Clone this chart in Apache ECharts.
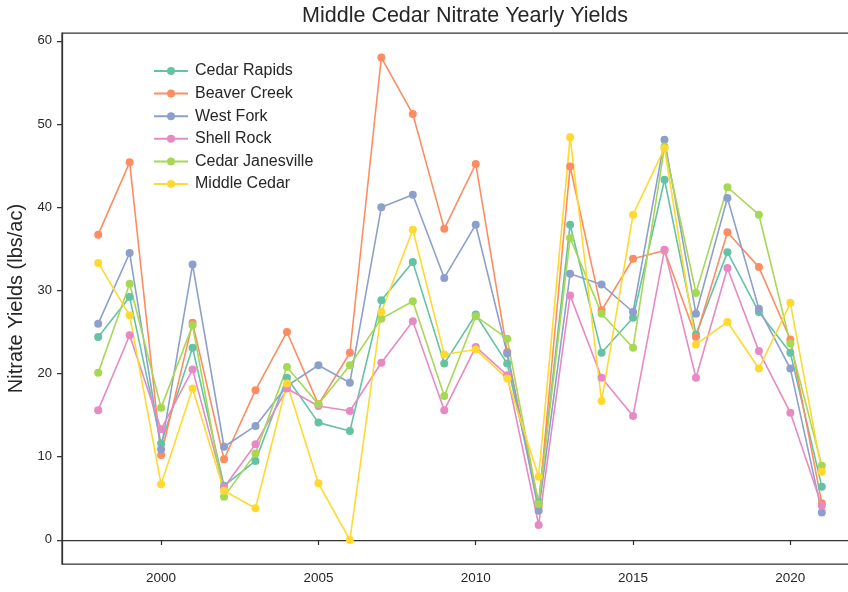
<!DOCTYPE html>
<html>
<head>
<meta charset="utf-8">
<script src="https://cdn.jsdelivr.net/npm/echarts@6/dist/echarts.min.js"></script>
<style>
  html, body { margin: 0; padding: 0; background: #fff; }
  #chart { width: 848px; height: 592px; }
</style>
</head>
<body>
<div id="chart"></div>
<script>
// Yearly nitrate yields (lbs/ac) for the Middle Cedar watershed and its sub-basins
const years = [1998, 1999, 2000, 2001, 2002, 2003, 2004, 2005, 2006, 2007, 2008, 2009,
               2010, 2011, 2012, 2013, 2014, 2015, 2016, 2017, 2018, 2019, 2020, 2021];

const cedarRapids     = [24.4, 29.2, 11.6, 23.1, 6.5, 9.5, 19.5, 14.1, 13.1, 28.8, 33.4, 21.2, 27.1, 21.2, 4.5, 37.9, 22.5, 26.7, 43.3, 24.7, 34.6, 27.4, 22.5, 6.4];
const beaverCreek     = [36.7, 45.4, 10.2, 26.1, 9.7, 18.0, 25.0, 16.3, 22.5, 58.0, 51.2, 37.4, 45.2, 22.6, 4.0, 44.9, 27.6, 33.8, 34.8, 24.4, 37.0, 32.8, 24.1, 4.4];
const westFork        = [26.0, 34.5, 10.9, 33.1, 11.2, 13.7, 18.5, 21.0, 18.9, 40.0, 41.5, 31.5, 37.9, 22.4, 3.5, 32.0, 30.7, 27.4, 48.1, 27.2, 41.1, 27.8, 20.6, 3.3];
const shellRock       = [15.6, 24.6, 13.3, 20.5, 6.3, 11.5, 18.2, 16.1, 15.5, 21.3, 26.3, 15.6, 23.2, 19.8, 1.8, 29.4, 19.5, 14.9, 34.9, 19.5, 32.7, 22.7, 15.3, 4.1];
const cedarJanesville = [20.1, 30.8, 15.9, 25.8, 5.2, 10.4, 20.8, 16.3, 21.0, 26.6, 28.7, 17.3, 26.9, 24.2, 4.3, 36.3, 27.2, 23.1, 47.3, 29.7, 42.4, 39.1, 23.6, 8.9];
const middleCedar     = [33.3, 27.0, 6.7, 18.2, 5.9, 3.8, 18.8, 6.8, 0.0, 27.4, 37.3, 22.3, 22.9, 19.4, 7.6, 48.4, 16.7, 39.1, 47.1, 23.5, 26.2, 20.6, 28.5, 8.2];

const seriesNames = ['Cedar Rapids', 'Beaver Creek', 'West Fork', 'Shell Rock', 'Cedar Janesville', 'Middle Cedar'];
const seriesValues = [cedarRapids, beaverCreek, westFork, shellRock, cedarJanesville, middleCedar];
const palette = ['#66c2a5', '#fc8d62', '#8da0cb', '#e78ac3', '#a6d854', '#ffd92f'];

const xTicks = [2000, 2005, 2010, 2015, 2020];
const yTicks = [0, 10, 20, 30, 40, 50, 60];

const FONT = '"Liberation Sans", Arial, sans-serif';
const INK = '#262626';

const chart = echarts.init(document.getElementById('chart'), null, { renderer: 'canvas' });

chart.setOption({
  animation: false,
  backgroundColor: '#ffffff',
  color: palette,
  title: {
    text: 'Middle Cedar Nitrate Yearly Yields',
    left: 460,
    textAlign: 'center',
    top: 0,
    textStyle: { fontFamily: FONT, fontSize: 21.5, fontWeight: 'normal', color: INK }
  },
  legend: {
    orient: 'vertical',
    left: 148,
    top: 58,
    itemWidth: 34,
    itemHeight: 10,
    itemGap: 6.6,
    textStyle: { fontFamily: FONT, fontSize: 16, color: INK, padding: [0, 0, 0, 2] },
    data: seriesNames
  },
  grid: {
    left: 62,
    right: -10,
    top: 33,
    bottom: 28,
    show: true,
    borderColor: '#333',
    borderWidth: 1.25,
    containLabel: false,
    outerBoundsMode: 'none'
  },
  xAxis: {
    type: 'value',
    min: 1996.85,
    max: 2022.15,
    splitLine: { show: false },
    axisLine: { show: true, lineStyle: { color: '#333', width: 1.25 } },
    axisTick: { show: true, customValues: xTicks, length: 5, lineStyle: { color: '#333', width: 1.25 } },
    axisLabel: { customValues: xTicks, margin: 7, fontFamily: FONT, fontSize: 13.5, color: INK,
                 formatter: v => String(v) }
  },
  yAxis: {
    type: 'value',
    min: -2.9,
    max: 60.95,
    name: 'Nitrate Yields (lbs/ac)',
    nameLocation: 'middle',
    nameGap: 26,
    nameTextStyle: { fontFamily: FONT, fontSize: 20, color: INK },
    splitLine: { show: false },
    axisLine: { show: true, lineStyle: { color: '#333', width: 1.25 } },
    axisTick: { show: true, customValues: yTicks, length: 5, lineStyle: { color: '#333', width: 1.25 } },
    axisLabel: { customValues: yTicks, margin: 10, fontFamily: FONT, fontSize: 13, color: INK }
  },
  series: seriesNames.map((name, i) => ({
    name: name,
    type: 'line',
    data: years.map((y, j) => [y, seriesValues[i][j]]),
    symbol: 'circle',
    symbolSize: 8,
    showSymbol: true,
    lineStyle: { width: 1.6, color: palette[i] },
    itemStyle: { color: palette[i] },
    emphasis: { disabled: true }
  }))
});
</script>
</body>
</html>
